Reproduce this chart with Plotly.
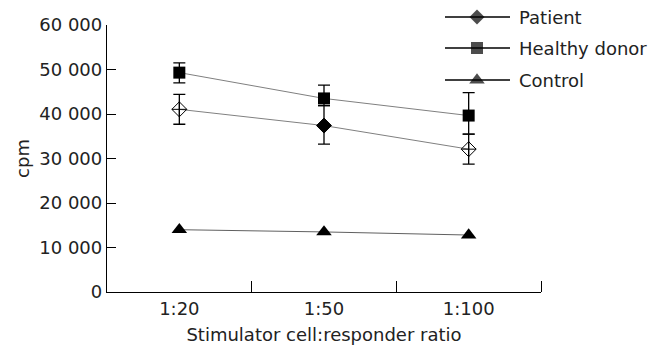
import plotly.graph_objects as go

categories = ["1:20", "1:50", "1:100"]
patient = [41050, 37400, 32100]
patient_err_plus = [3350, 4500, 3400]
patient_err_minus = [3350, 4150, 3350]
healthy = [49300, 43500, 39650]
healthy_err_plus = [2200, 3000, 5150]
healthy_err_minus = [2300, 1600, 4150]
control = [14000, 13500, 12800]
series_names = ["Patient", "Healthy donor", "Control"]
ytick_vals = [0, 10000, 20000, 30000, 40000, 50000, 60000]
ytick_text = ["0", "10 000", "20 000", "30 000", "40 000", "50 000", "60 000"]

xpos = list(range(len(categories)))
FONT = "DejaVu Sans"
TXT = "#222222"
TRI = 13.5

fig = go.Figure()
fig.add_trace(go.Scatter(
    x=xpos, y=patient, name=series_names[0], mode="lines+markers",
    line=dict(color="#808080", width=1),
    marker=dict(symbol=["diamond-cross-open", "diamond", "diamond-cross-open"],
                size=11.5, color="black", line=dict(color="black", width=1)),
    error_y=dict(type="data", symmetric=False, array=patient_err_plus,
                 arrayminus=patient_err_minus, color="black", thickness=1.3, width=6),
    showlegend=False,
))
fig.add_trace(go.Scatter(
    x=xpos, y=healthy, name=series_names[1], mode="lines+markers",
    line=dict(color="#808080", width=1),
    marker=dict(symbol="square", size=12, color="black"),
    error_y=dict(type="data", symmetric=False, array=healthy_err_plus,
                 arrayminus=healthy_err_minus, color="black", thickness=1.3, width=6),
    showlegend=False,
))
fig.add_trace(go.Scatter(
    x=xpos, y=control, name=series_names[2], mode="lines+markers",
    line=dict(color="#606060", width=1),
    marker=dict(symbol="triangle-up", size=TRI, color="black"),
    showlegend=False,
))

# Manual legend on a hidden pixel-scaled axis pair covering the full height
leg_y = [275, 244, 212]
leg_sym = ["diamond", "square", "triangle-up"]
leg_size = [11.5, 12, TRI]
leg_mx, leg_x0, leg_x1, leg_tx = 477, 445, 510, 517
for name, ly in zip(series_names, leg_y):
    fig.add_shape(type="line", xref="x2", yref="y2", x0=leg_x0, x1=leg_x1,
                  y0=ly, y1=ly, layer="below", line=dict(color="black", width=1.3))
    fig.add_annotation(x=leg_tx, y=ly, xref="x2", yref="y2", text=name,
                       showarrow=False, xanchor="left", yanchor="middle",
                       font=dict(family=FONT, size=18, color=TXT))
fig.add_trace(go.Scatter(
    x=[leg_mx] * 3, y=leg_y, xaxis="x2", yaxis="y2", mode="markers",
    marker=dict(symbol=leg_sym, size=leg_size, color="black",
                line=dict(width=0)),
    cliponaxis=False, showlegend=False, hoverinfo="skip",
))

fig.update_layout(
    width=667, height=347,
    margin=dict(l=107, r=126, t=10, b=55, autoexpand=False),
    paper_bgcolor="white", plot_bgcolor="rgba(0,0,0,0)",
    font=dict(family=FONT, size=18, color=TXT),
    showlegend=False,
    xaxis=dict(range=[-0.5, 2.5], tickvals=xpos, ticktext=categories,
               ticks="", showgrid=False, zeroline=False, automargin=False,
               showline=True, linecolor="black", linewidth=1.3,
               tickfont=dict(size=18),
               minor=dict(tickvals=[0.5, 1.5, 2.5], ticks="inside", ticklen=11,
                          tickcolor="black", tickwidth=1.3, showgrid=False),
               title=dict(text="Stimulator cell:responder ratio", standoff=10,
                          font=dict(size=18))),
    yaxis=dict(domain=[0, 267 / 282], range=[0, 60000], tickvals=ytick_vals,
               ticktext=ytick_text, automargin=False,
               ticks="inside", ticklen=9, tickcolor="black", tickwidth=1.3,
               showgrid=False, zeroline=False,
               showline=True, linecolor="black", linewidth=1.3,
               tickfont=dict(size=18),
               title=dict(text="cpm", standoff=4, font=dict(size=18))),
    xaxis2=dict(anchor="y2", domain=[0, 1], range=[107, 541], visible=False,
                fixedrange=True),
    yaxis2=dict(anchor="x2", domain=[0, 1], range=[0, 282], visible=False,
                fixedrange=True),
)

fig.write_html("out.html")
